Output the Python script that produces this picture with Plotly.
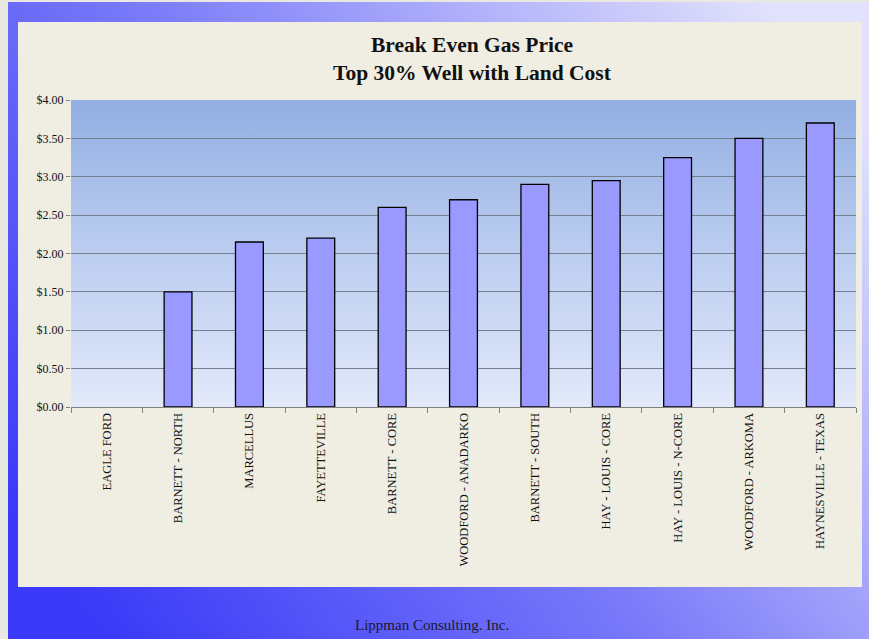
import base64
import plotly.graph_objects as go

categories = ["EAGLE FORD", "BARNETT - NORTH", "MARCELLUS", "FAYETTEVILLE",
              "BARNETT - CORE", "WOODFORD - ANADARKO", "BARNETT - SOUTH",
              "HAY - LOUIS - CORE", "HAY - LOUIS - N-CORE", "WOODFORD - ARKOMA",
              "HAYNESVILLE - TEXAS"]
prices = [None, 1.50, 2.15, 2.20, 2.60, 2.70, 2.90, 2.95, 3.25, 3.50, 3.70]
tick_vals = [0, 0.5, 1.0, 1.5, 2.0, 2.5, 3.0, 3.5, 4.0]
tick_text = ["$0.00", "$0.50", "$1.00", "$1.50", "$2.00", "$2.50", "$3.00", "$3.50", "$4.00"]

W, H = 869, 639
L, R, T, B = 71, 13, 100, 232
PW, PH = W - L - R, H - T - B

svg = f'''<svg xmlns="http://www.w3.org/2000/svg" width="{W}" height="{H}" viewBox="0 0 {W} {H}" preserveAspectRatio="none">
<defs>
<linearGradient id="outer" x1="0" y1="0.8" x2="1" y2="0.2">
<stop offset="0" stop-color="#3a3af8"/>
<stop offset="0.45" stop-color="#7878fa"/>
<stop offset="1" stop-color="#e2e2fc"/>
</linearGradient>
<linearGradient id="plot" x1="0" y1="0" x2="0" y2="1">
<stop offset="0" stop-color="#92afe2"/>
<stop offset="0.5" stop-color="#bccdf0"/>
<stop offset="1" stop-color="#e2e9fa"/>
</linearGradient>
</defs>
<rect x="0" y="0" width="{W}" height="{H}" fill="#e9e9e2"/>
<rect x="8" y="2" width="{W-8}" height="{H-2}" fill="url(#outer)"/>
<rect x="18" y="22" width="844" height="565" fill="#f0ede2"/>
<rect x="{L}" y="{T}" width="{PW}" height="{PH}" fill="url(#plot)"/>
</svg>'''
uri = "data:image/svg+xml;base64," + base64.b64encode(svg.encode()).decode()

fig = go.Figure()
fig.add_trace(go.Bar(
    x=categories, y=prices,
    marker=dict(color="#9999ff", line=dict(color="#000000", width=1.3)),
    width=0.39,
))

fig.add_layout_image(dict(
    source=uri, xref="paper", yref="paper",
    x=-L / PW, y=1 + T / PH, sizex=W / PW, sizey=H / PH,
    xanchor="left", yanchor="top", sizing="stretch", layer="below",
))

fig.update_layout(
    width=W, height=H,
    margin=dict(l=L, r=R, t=T, b=B),
    paper_bgcolor="#e9e9e2",
    plot_bgcolor="rgba(0,0,0,0)",
    showlegend=False,
    font=dict(family="Liberation Serif", color="#111111"),
    title=dict(
        text="<b>Break Even Gas Price<br>Top 30% Well with Land Cost</b>",
        x=(472 - L) / PW, xref="paper", xanchor="center",
        y=1 - 52 / H, yanchor="top",
        font=dict(family="Liberation Serif", size=21.5, color="#111111"),
    ),
    xaxis=dict(
        type="category",
        tickangle=-90,
        tickfont=dict(family="Liberation Serif", size=12.5, color="#111111"),
        showline=True, linecolor="#808080", linewidth=1,
        ticks="outside", tickson="boundaries", ticklen=5, tickcolor="#808080",
        showgrid=False,
    ),
    yaxis=dict(
        range=[0, 4],
        tickvals=tick_vals, ticktext=tick_text,
        tickfont=dict(family="Liberation Serif", size=12, color="#111111"),
        showgrid=True, gridcolor="#74808e", gridwidth=1,
        ticks="outside", ticklen=4, tickcolor="#808080",
        showline=False, zeroline=False,
    ),
    annotations=[dict(
        text="Lippman Consulting. Inc.", xref="paper", yref="paper",
        x=(432 - L) / PW, y=-(625 - T - PH) / PH,
        xanchor="center", yanchor="middle", showarrow=False,
        font=dict(family="Liberation Serif", size=15, color="#1a1a2a"),
    )],
)

fig.write_html(
    "out.html",
    config={"displayModeBar": False},
    post_script="document.body.style.margin='0';document.body.style.background='#e9e9e2';",
)
